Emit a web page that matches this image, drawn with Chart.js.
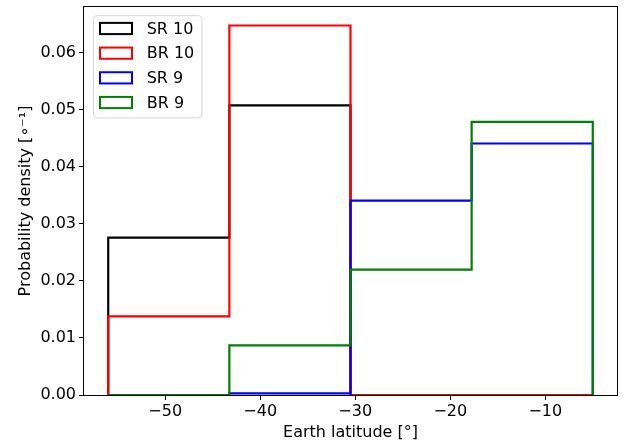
<!DOCTYPE html>
<html><head><meta charset="utf-8">
<script src="https://cdn.jsdelivr.net/npm/chart.js@4.4.0/dist/chart.umd.min.js"></script>
<style>html,body{margin:0;padding:0;background:#fff}canvas{display:block}</style>
</head><body>
<canvas id="c" width="631" height="442"></canvas>
<script>
// ---- data ----
const binEdges = [-56.0, -43.25, -30.5, -17.75, -5.0];
const seriesNames = ['SR 10', 'BR 10', 'SR 9', 'BR 9'];
const sr10 = [0.0276, 0.0508, 0, 0];
const br10 = [0.0138, 0.0648, 0, 0];
const sr9  = [0, 0.0003, 0.0341, 0.0441];
const br9  = [0, 0.0087, 0.0220, 0.0479];
const xTickValues = [-50, -40, -30, -20, -10];
const yTickValues = [0, 0.01, 0.02, 0.03, 0.04, 0.05, 0.06];
const xTitle = 'Earth latitude [°]';
const yTitle = 'Probability density [∘⁻¹]';

const seriesValues = [sr10, br10, sr9, br9];
const seriesColors = ['#000000', '#ff0000', '#0000ff', '#008000'];

// step-histogram outline (matplotlib histtype='step') built from edges + values
function stepOutline(vals) {
  const pts = [{x: binEdges[0], y: 0}];
  vals.forEach((v, i) => {
    pts.push({x: binEdges[i], y: v});
    pts.push({x: binEdges[i + 1], y: v});
  });
  pts.push({x: binEdges[binEdges.length - 1], y: 0});
  return pts;
}

const FONT = 'DejaVu Sans';
const maxVal = Math.max(...seriesValues.flat());
const span = binEdges[binEdges.length - 1] - binEdges[0];

const bgPlugin = {
  id: 'bg',
  beforeDraw(chart) {
    const ctx = chart.ctx;
    ctx.save(); ctx.fillStyle = '#fff';
    ctx.fillRect(0, 0, chart.width, chart.height); ctx.restore();
  }
};
const framePlugin = {
  id: 'frame',
  afterDatasetsDraw(chart) {
    const {ctx, chartArea: a} = chart;
    ctx.save();
    ctx.strokeStyle = '#000'; ctx.lineWidth = 1;
    ctx.strokeRect(Math.round(a.left) - 0.5, Math.round(a.top) - 0.5,
                   Math.round(a.right - a.left) + 1, Math.round(a.bottom - a.top) + 1);
    ctx.restore();
  }
};
const legendPlugin = {
  id: 'boxLegend',
  afterDraw(chart) {
    const {ctx, chartArea: a} = chart;
    ctx.save();
    const fx = a.left + 9.5, fy = a.top + 8.7, fw = 108.5, fh = 102.3, r = 4;
    ctx.beginPath();
    ctx.moveTo(fx + r, fy);
    ctx.arcTo(fx + fw, fy, fx + fw, fy + fh, r);
    ctx.arcTo(fx + fw, fy + fh, fx, fy + fh, r);
    ctx.arcTo(fx, fy + fh, fx, fy, r);
    ctx.arcTo(fx, fy, fx + fw, fy, r);
    ctx.closePath();
    ctx.fillStyle = 'rgba(255,255,255,0.8)'; ctx.fill();
    ctx.strokeStyle = 'rgba(204,204,204,0.8)'; ctx.lineWidth = 1; ctx.stroke();
    chart.data.datasets.forEach((ds, i) => {
      const cy = a.top + 21.5 + i * 24.67;
      ctx.strokeStyle = ds.borderColor; ctx.lineWidth = 2;
      ctx.lineJoin = 'miter';
      ctx.strokeRect(a.left + 16, cy - 5.6, 32, 11.2);
      ctx.fillStyle = '#000';
      ctx.font = '16px "' + FONT + '"';
      ctx.textBaseline = 'middle'; ctx.textAlign = 'left';
      ctx.fillText(ds.label, a.left + 62.7, cy + 1);
    });
    ctx.restore();
  }
};

const fmtX = v => (v < 0 ? '\u2212' : '') + Math.abs(v);

new Chart(document.getElementById('c'), {
  type: 'line',
  data: {
    datasets: seriesNames.map((name, i) => ({
      label: name,
      data: stepOutline(seriesValues[i]),
      borderColor: seriesColors[i],
      backgroundColor: seriesColors[i],
      borderWidth: 2.2,
      borderJoinStyle: 'miter',
      borderCapStyle: 'butt',
      pointRadius: 0,
      tension: 0,
      fill: false,
      clip: false,
      order: seriesNames.length - i
    }))
  },
  options: {
    responsive: false,
    animation: false,
    devicePixelRatio: 1,
    layout: {padding: {top: 7, right: 14, left: 0, bottom: 0}},
    plugins: {legend: {display: false}, tooltip: {enabled: false}},
    scales: {
      x: {
        type: 'linear',
        min: binEdges[0] - 0.05 * span,
        max: binEdges[binEdges.length - 1] + 0.05 * span,
        afterBuildTicks: s => { s.ticks = xTickValues.map(v => ({value: v})); },
        afterFit: s => { s.height = 47; s.paddingLeft = 0; s.paddingRight = 0; },
        ticks: {callback: fmtX, color: '#000', font: {family: FONT, size: 16}, padding: 2, maxRotation: 0, autoSkip: false},
        grid: {display: true, drawOnChartArea: false, drawTicks: true, tickLength: 5, color: '#000', lineWidth: 1},
        border: {display: false},
        title: {display: true, text: xTitle, color: '#000', font: {family: FONT, size: 16}, padding: {top: 0, bottom: 0}}
      },
      y: {
        type: 'linear',
        min: 0,
        max: maxVal * 1.05,
        afterBuildTicks: s => { s.ticks = yTickValues.map(v => ({value: v})); },
        afterFit: s => { s.width = 84; s.paddingTop = 0; s.paddingBottom = 0; },
        ticks: {callback: v => v.toFixed(2), color: '#000', font: {family: FONT, size: 16}, padding: 3, autoSkip: false},
        grid: {display: true, drawOnChartArea: false, drawTicks: true, tickLength: 5, color: '#000', lineWidth: 1},
        border: {display: false},
        title: {display: true, text: yTitle, color: '#000', font: {family: FONT, size: 16}, padding: {top: 16, bottom: 0}}
      }
    }
  },
  plugins: [bgPlugin, framePlugin, legendPlugin]
});
</script>
</body></html>
